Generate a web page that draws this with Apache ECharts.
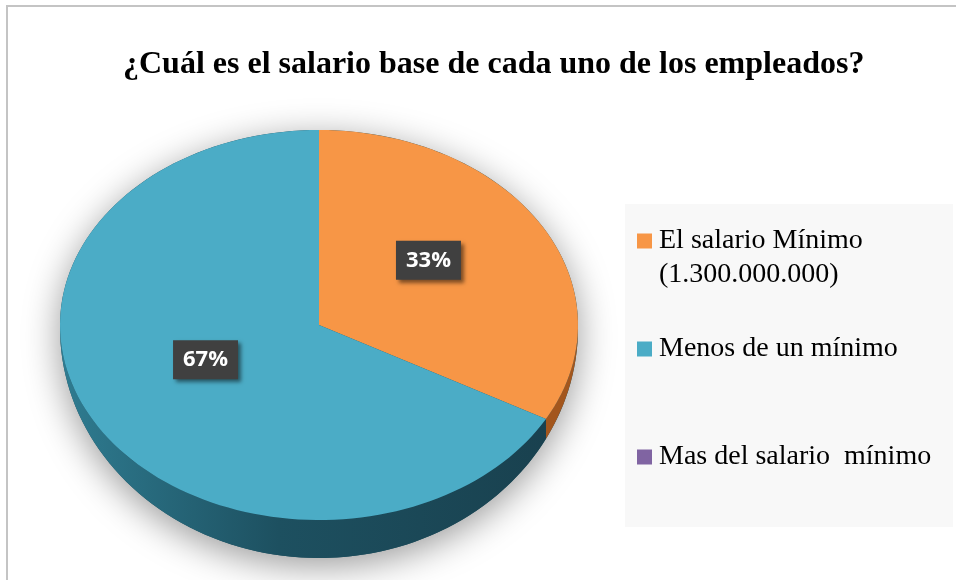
<!DOCTYPE html>
<html>
<head>
<meta charset="utf-8">
<style>
  html, body { margin: 0; padding: 0; background: #fff; }
  #chart { width: 956px; height: 580px; }
</style>
<script src="https://cdn.jsdelivr.net/npm/echarts@6/dist/echarts.min.js"></script>
</head>
<body>
<div id="chart"></div>
<script>
const titleText = "¿Cuál es el salario base de cada uno de los empleados?";
const categories = ["El salario Mínimo (1.300.000.000)", "Menos de un mínimo", "Mas del salario  mínimo"];
const values = [33, 67, 0];

const colors = ["#f79646", "#4bacc6", "#8064a2"];
const sideFills = [
  "#a3561d",
  new echarts.graphic.LinearGradient(0, 0, 1, 0, [
    { offset: 0, color: "#2f7c91" },
    { offset: 0.45, color: "#1d5060" },
    { offset: 1, color: "#19414f" }
  ]),
  "#4f3a68"
];

const total = values.reduce((a, b) => a + b, 0);
const DEPTH = 35;
const RAD = Math.PI / 180;

// side wall is thicker at the front than at the left/right edges
const depthAt = (t) => 3 + DEPTH * Math.max(0, -Math.cos(t));

// points on the ellipse rim, angle clockwise from 12 o'clock
const arcPoints = (api, a, b, lowered) => {
  const pts = [];
  const steps = Math.max(2, Math.ceil((b - a) / 2));
  for (let k = 0; k <= steps; k++) {
    const t = (a + ((b - a) * k) / steps) * RAD;
    const p = api.coord([Math.sin(t), Math.cos(t)]);
    pts.push([p[0], p[1] + (lowered ? depthAt(t) : 0)]);
  }
  return pts;
};

const shadowRenderer = (params, api) => {
  const top = arcPoints(api, -90, 90, false);
  const bottom = arcPoints(api, 90, 270, true);
  return {
    type: "polygon",
    shape: { points: top.concat(bottom) },
    style: {
      fill: "#1d4d5c",
      shadowBlur: 36,
      shadowColor: "rgba(0,0,0,0.4)",
      shadowOffsetY: 8
    }
  };
};

const sliceRenderer = (i) => (params, api) => {
  const v = api.value(0);
  if (!v) return;
  const start = (values.slice(0, i).reduce((a, b) => a + b, 0) / total) * 360;
  const end = start + (v / total) * 360;
  const center = api.coord([0, 0]);
  const children = [];

  const a = Math.max(start, 90);
  const b = Math.min(end, 270);
  if (b > a) {
    const upper = arcPoints(api, a, b, false);
    const lower = arcPoints(api, a, b, true).reverse();
    children.push({ type: "polygon", shape: { points: upper.concat(lower) }, style: { fill: sideFills[i] } });
  }

  children.push({
    type: "polygon",
    shape: { points: [center].concat(arcPoints(api, start, end, false)) },
    style: { fill: colors[i] }
  });

  const mid = ((start + end) / 2) * RAD;
  const lp = api.coord([Math.sin(mid) * 0.5, Math.cos(mid) * 0.5]);
  children.push({
    type: "text",
    x: lp[0] - 2,
    y: lp[1] - 15,
    z2: 10,
    style: {
      text: Math.round((v / total) * 100) + "%",
      fill: "#fff",
      fontFamily: "Open Sans",
      fontWeight: "bold",
      fontSize: 22,
      align: "center",
      verticalAlign: "middle",
      backgroundColor: "#404040",
      padding: [9, 10, 8, 10],
      shadowBlur: 4,
      shadowColor: "rgba(0,0,0,0.5)",
      shadowOffsetX: 3,
      shadowOffsetY: 3
    }
  });

  return { type: "group", children };
};

const chart = echarts.init(document.getElementById("chart"));

chart.setOption({
  animation: false,
  title: {
    text: titleText,
    left: 123,
    top: 49,
    padding: 0,
    textStyle: {
      fontFamily: "Liberation Serif",
      fontWeight: "bold",
      fontSize: 32,
      color: "#000"
    }
  },
  graphic: [
    {
      type: "rect",
      z: -10,
      shape: { x: 7, y: 6, width: 1000, height: 1000 },
      style: { fill: "none", stroke: "#c4c4c4", lineWidth: 2 }
    },
    {
      type: "rect",
      z: -10,
      shape: { x: 625, y: 204, width: 328, height: 323 },
      style: { fill: "#f8f8f8" }
    }
  ],
  legend: {
    orient: "vertical",
    left: 637,
    top: 190,
    padding: 0,
    itemGap: 6,
    itemWidth: 15,
    itemHeight: 15,
    icon: "rect",
    selectedMode: false,
    data: categories,
    formatter: (name) => (name === categories[0] ? "\n" + name.replace(" (", "\n(") : "\n" + name + "\n"),
    textStyle: {
      fontFamily: "Liberation Serif",
      fontSize: 28,
      lineHeight: 34,
      color: "#000",
      padding: [0, 0, 0, 2]
    }
  },
  grid: { left: 60, top: 130, width: 518, height: 390 },
  xAxis: { type: "value", min: -1, max: 1, show: false },
  yAxis: { type: "value", min: -1, max: 1, show: false },
  series: [
    {
      type: "custom",
      name: "sombra",
      z: 1,
      silent: true,
      data: [[0]],
      renderItem: shadowRenderer
    },
    ...categories.map((name, i) => ({
      type: "custom",
      name,
      z: 2,
      data: [[values[i]]],
      itemStyle: { color: colors[i] },
      renderItem: sliceRenderer(i)
    }))
  ]
});
</script>
</body>
</html>
